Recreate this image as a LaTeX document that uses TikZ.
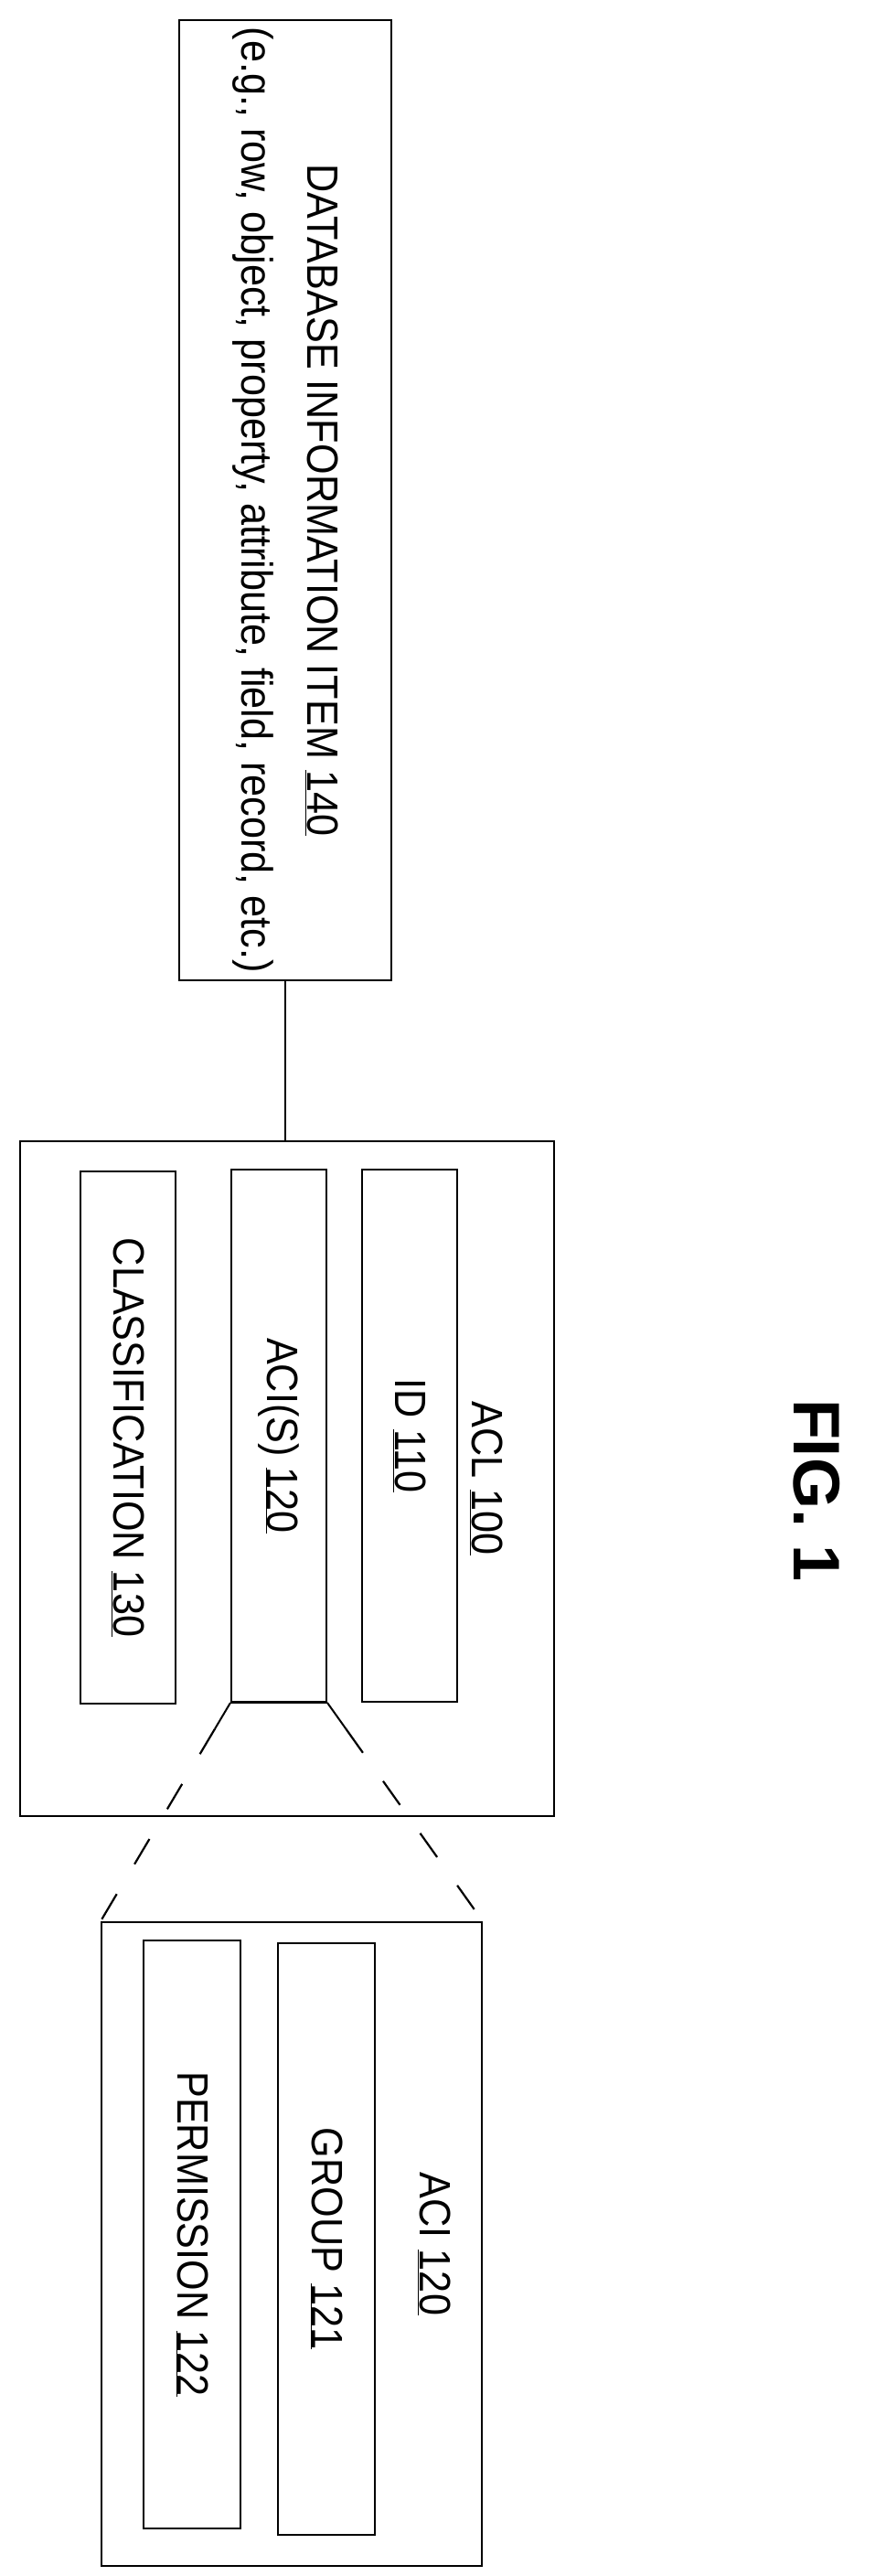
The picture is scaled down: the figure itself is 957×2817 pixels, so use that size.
\documentclass[tikz,border=0pt]{standalone}
\usepackage{fontspec}
\setmainfont{Liberation Sans}
\usetikzlibrary{calc}
\begin{document}
\begin{tikzpicture}[x=1pt,y=-1pt,
  box/.style={draw,line width=2pt,rectangle,inner sep=0pt},
  txt/.style={rotate=-90,font=\fontsize{48}{72}\selectfont,align=center},
  dl/.style={line width=2.2pt,dash pattern=on 32pt off 38pt}]
\useasboundingbox (0,0) rectangle (957,2817);
\node[box,minimum width=232pt,minimum height=1050pt] (db) at (312,547) {};
\node[txt] (dbt) at (db.center) {\scalebox{0.9}[1]{DATABASE INFORMATION ITEM \underline{140}}\\\scalebox{0.9}[1]{(e.g., row, object, property, attribute, field, record, etc.)}};
\node[box,minimum width=584pt,minimum height=738pt] (acl) at (314,1617) {};
\node[txt] (aclt) at (532,1617) {\scalebox{0.9}[1]{ACL \underline{100}}};
\node[box,minimum width=104pt,minimum height=582pt] (id) at (448,1570) {};
\node[txt] (idt) at (id.center) {\scalebox{0.9}[1]{ID \underline{110}}};
\node[box,minimum width=104pt,minimum height=582pt] (acis) at (305,1570) {};
\node[txt] (acist) at (acis.center) {\scalebox{0.9}[1]{ACI(S) \underline{120}}};
\node[box,minimum width=104pt,minimum height=582pt] (cls) at (140,1572) {};
\node[txt] (clst) at (cls.center) {\scalebox{0.9}[1]{CLASSIFICATION \underline{130}}};
\node[box,minimum width=416pt,minimum height=704pt] (aci) at (319,2454) {};
\node[txt] (acit) at (475,2454) {\scalebox{0.9}[1]{ACI \underline{120}}};
\node[box,minimum width=106pt,minimum height=647pt] (grp) at (357,2448) {};
\node[txt] (grpt) at (grp.center) {\scalebox{0.9}[1]{GROUP \underline{121}}};
\node[box,minimum width=106pt,minimum height=643pt] (perm) at (210,2443) {};
\node[txt] (permt) at (perm.center) {\scalebox{0.9}[1]{PERMISSION \underline{122}}};
\node[font=\fontsize{72}{80}\bfseries,rotate=-90] (fig) at (893,1630) {FIG. 1};
\coordinate (tl) at ($(acis.south west)!0.12!(aci.north west)$);
\coordinate (tr) at ($(acis.south east)!0.12!(aci.north east)$);
\draw[line width=2pt] (db.south) -- (db.south |- acl.north);
\draw[line width=2pt] (acis.south west) -- (acis.south east);
\draw[line width=2pt] (acis.south west) -- (tl);
\draw[line width=2pt] (acis.south east) -- (tr);
\draw[dl] (tl) -- (aci.north west);
\draw[dl] (tr) -- (aci.north east);
\end{tikzpicture}
\end{document}
